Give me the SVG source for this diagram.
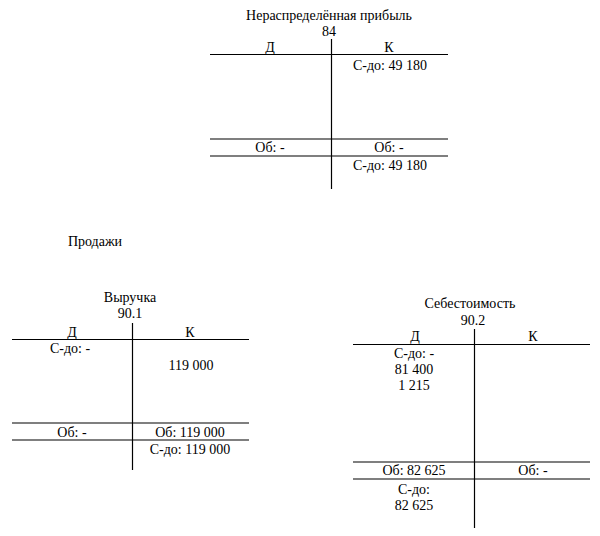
<svg xmlns="http://www.w3.org/2000/svg" width="600" height="536" viewBox="0 0 600 536">
<style>
text{font-family:"Liberation Serif","Times New Roman",serif;font-size:14px;fill:#000;text-anchor:middle}
.l{stroke:#000;stroke-width:1.2;fill:none}
</style>
<rect width="600" height="536" fill="#fff"/>
<g id="acc84">
<text x="329" y="20">Нераспределённая прибыль</text>
<text x="329" y="36">84</text>
<text x="270" y="52">Д</text>
<text x="389" y="52">К</text>
<line class="l" x1="210" y1="54.5" x2="448" y2="54.5"/>
<line class="l" x1="331.5" y1="39" x2="331.5" y2="189"/>
<text x="390" y="70">С-до: 49 180</text>
<line class="l" x1="210" y1="139" x2="448" y2="139"/>
<line class="l" x1="210" y1="156" x2="448" y2="156"/>
<text x="270" y="152">Об: -</text>
<text x="389" y="152">Об: -</text>
<text x="390" y="170">С-до: 49 180</text>
</g>
<g id="sales">
<text x="95" y="246">Продажи</text>
</g>
<g id="acc901">
<text x="130" y="302">Выручка</text>
<text x="130" y="318">90.1</text>
<text x="72" y="337">Д</text>
<text x="190" y="337">К</text>
<line class="l" x1="12" y1="339.5" x2="249" y2="339.5"/>
<line class="l" x1="132.5" y1="323" x2="132.5" y2="470"/>
<text x="70" y="353">С-до: -</text>
<text x="191" y="370">119 000</text>
<line class="l" x1="12" y1="423" x2="249" y2="423"/>
<line class="l" x1="12" y1="440" x2="249" y2="440"/>
<text x="72" y="437">Об: -</text>
<text x="190" y="437">Об: 119 000</text>
<text x="190" y="454">С-до: 119 000</text>
</g>
<g id="acc902">
<text x="470" y="308">Себестоимость</text>
<text x="473" y="325">90.2</text>
<text x="415" y="341">Д</text>
<text x="533" y="341">К</text>
<line class="l" x1="353" y1="344.5" x2="590" y2="344.5"/>
<line class="l" x1="474.5" y1="329" x2="474.5" y2="528"/>
<text x="414" y="358">С-до: -</text>
<text x="414" y="374">81 400</text>
<text x="414" y="390">1 215</text>
<line class="l" x1="353" y1="462" x2="590" y2="462"/>
<line class="l" x1="353" y1="479" x2="590" y2="479"/>
<text x="414" y="475">Об: 82 625</text>
<text x="533" y="475">Об: -</text>
<text x="414" y="494">С-до:</text>
<text x="414" y="510">82 625</text>
</g>
</svg>
